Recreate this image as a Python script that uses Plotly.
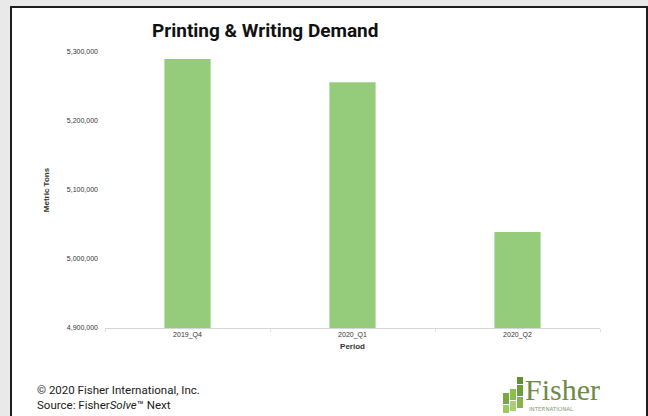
import plotly.graph_objects as go

periods = ["2019_Q4", "2020_Q1", "2020_Q2"]
metric_tons = [5290000, 5256000, 5039000]
y_ticks = [4900000, 5000000, 5100000, 5200000, 5300000]
y_tick_labels = ["4,900,000", "5,000,000", "5,100,000", "5,200,000", "5,300,000"]

W, H = 648, 416
L, R, T, B = 105, 48, 52, 88
PW, PH = W - L - R, H - T - B


def px(x):
    return (x - L) / PW


def py(y):
    return (H - B - y) / PH


fig = go.Figure()
fig.add_trace(go.Bar(
    x=periods, y=metric_tons, marker_color="#95cc7c", marker_line_width=0,
    width=0.28, hoverinfo="x+y",
))

shapes = [
    dict(type="rect", xref="paper", yref="paper", x0=px(11), x1=px(647), y0=py(7), y1=py(430),
         line=dict(color="#1e1e1e", width=2), fillcolor="white", layer="below"),
]
# Fisher logo icon (green blocks)
logo_blocks = [
    (503, 393, 509, 404, "#7aa83f"), (510, 389, 516, 400, "#8cbf4a"), (517, 385, 523, 396, "#6e9e36"),
    (503, 405, 509, 413, "#9cc85c"), (510, 401, 516, 411, "#a8d070"), (517, 397, 523, 408, "#85b548"),
    (517, 377, 523, 384, "#5f8f2e"),
]
for x0, y0, x1, y1, c in logo_blocks:
    shapes.append(dict(type="rect", xref="paper", yref="paper", x0=px(x0), x1=px(x1), y0=py(y1), y1=py(y0),
                       line=dict(width=0), fillcolor=c, layer="above"))

annotations = [
    dict(text="<b>Printing &amp; Writing Demand</b>", x=px(265), y=py(30), xref="paper", yref="paper",
         showarrow=False, xanchor="center", yanchor="middle",
         font=dict(family="Roboto", size=19, color="#111")),
    dict(text="© 2020 Fisher International, Inc.<br>Source: Fisher<i>Solve</i>™ Next",
         x=px(35), y=py(397), xref="paper", yref="paper", showarrow=False,
         xanchor="left", yanchor="middle", align="left",
         font=dict(family="Roboto", size=11.5, color="#1a1a1a")),
    dict(text="Fisher", x=px(523), y=py(389), xref="paper", yref="paper", showarrow=False,
         xanchor="left", yanchor="middle",
         font=dict(family="Times New Roman", size=30, color="#6f8a46")),
    dict(text="INTERNATIONAL", x=px(527), y=py(409), xref="paper", yref="paper", showarrow=False,
         xanchor="left", yanchor="middle",
         font=dict(family="DejaVu Sans", size=5.5, color="#8a9a78")),
]

fig.update_layout(
    width=W, height=H,
    margin=dict(l=L, r=R, t=T, b=B),
    paper_bgcolor="#e9e9e9", plot_bgcolor="white",
    showlegend=False, bargap=0.7,
    shapes=shapes, annotations=annotations,
    xaxis=dict(
        type="category", showgrid=False, showline=True, linecolor="#d6d6d6", linewidth=1,
        ticks="outside", tickson="boundaries", ticklen=3, tickcolor="#e0e0e0",
        tickfont=dict(family="Arial", size=7, color="#333"),
        title=dict(text="<b>Period</b>", font=dict(family="Arial", size=8, color="#333"), standoff=4),
        fixedrange=True,
    ),
    yaxis=dict(
        range=[4900000, 5300000], tickvals=y_ticks, ticktext=y_tick_labels,
        showgrid=False, zeroline=False, showline=False, ticks="",
        tickfont=dict(family="Arial", size=7, color="#333"),
        ticklabelstandoff=6,
        title=dict(text="<b>Metric Tons</b>", font=dict(family="Arial", size=8, color="#333"), standoff=16),
        fixedrange=True,
    ),
)

fig.write_html("out.html")
